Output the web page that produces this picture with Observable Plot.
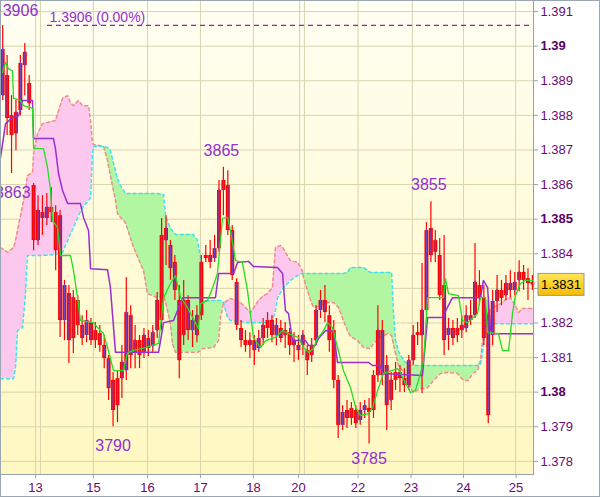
<!DOCTYPE html>
<html><head><meta charset="utf-8">
<script src="https://cdn.jsdelivr.net/npm/d3@7"></script>
<script src="https://cdn.jsdelivr.net/npm/@observablehq/plot@0.6"></script>
<style>
html,body{margin:0;padding:0;background:#fff;}
#chart{width:600px;height:497px;overflow:hidden;}
</style></head><body><div id="chart"></div>
<script>
// ---- candles (2-hour bars, time in hours) ----
const open = [1.38857,1.38915,1.38799,1.38747,1.38814,1.38944,1.38892,1.38597,1.38438,1.38519,
1.38502,1.38534,1.38519,1.3851,1.38207,1.38285,1.38155,1.38265,1.38193,1.38164,
1.38201,1.38149,1.38169,1.38135,1.38097,1.38034,1.37961,1.38039,1.38062,1.38221,
1.38115,1.38149,1.38115,1.38155,1.38132,1.38178,1.38207,1.38438,1.38424,1.38375,
1.38265,1.38164,1.38265,1.38178,1.38164,1.38221,1.38386,1.38395,1.38386,1.38415,
1.38583,1.38597,1.38467,1.38317,1.38184,1.38149,1.38135,1.38149,1.38126,1.38155,
1.38184,1.38207,1.38164,1.38184,1.38164,1.38172,1.38135,1.38135,1.38135,1.3812,
1.38106,1.38149,1.38236,1.38265,1.38221,1.38178,1.38034,1.37904,1.37947,1.37924,
1.37947,1.37918,1.37947,1.37953,1.37947,1.38048,1.38178,1.38077,1.37976,1.38034,
1.38057,1.38039,1.38019,1.38091,1.38164,1.38164,1.38236,1.38473,1.38404,1.38395,
1.38308,1.38164,1.38184,1.38164,1.38178,1.38184,1.38221,1.38221,1.38308,1.38271,
1.38221,1.38164,1.38262,1.38294,1.38279,1.38314,1.38294,1.38323,1.38346,1.38328,
1.38317];
const high = [1.3906,1.38973,1.38857,1.38843,1.38973,1.39008,1.38915,1.38603,1.38568,1.38568,
1.38574,1.38591,1.38539,1.38525,1.38323,1.38308,1.38294,1.38279,1.38221,1.38236,
1.38213,1.38201,1.38193,1.38164,1.38106,1.38057,1.38062,1.38135,1.38331,1.3825,
1.38193,1.38164,1.38184,1.38178,1.38193,1.38288,1.38502,1.3851,1.38438,1.38395,
1.38308,1.38323,1.38279,1.38236,1.3825,1.38395,1.38424,1.38438,1.38453,1.38612,
1.3865,1.3864,1.38482,1.38328,1.38207,1.38178,1.38172,1.38164,1.38178,1.38213,
1.3823,1.38221,1.38213,1.38207,1.38201,1.38184,1.38172,1.38164,1.38178,1.38135,
1.38155,1.3825,1.38294,1.38308,1.3825,1.38207,1.38048,1.37961,1.37976,1.3797,
1.37961,1.3797,1.37976,1.37982,1.38062,1.3825,1.38207,1.38106,1.38057,1.38086,
1.38077,1.38068,1.38106,1.38193,1.38201,1.38372,1.3849,1.3855,1.38467,1.38444,
1.38453,1.38213,1.38207,1.38213,1.38221,1.3825,1.38265,1.3843,1.38351,1.38308,
1.38265,1.38294,1.38337,1.38323,1.38337,1.38351,1.38346,1.3838,1.38366,1.38357,
1.38337];
const low = [1.38843,1.38742,1.38632,1.38698,1.38799,1.38857,1.38814,1.38409,1.38424,1.38453,
1.38482,1.3849,1.38351,1.38158,1.38149,1.38083,1.38112,1.38164,1.38135,1.38143,
1.38135,1.38126,1.38115,1.38068,1.37976,1.3790,1.37912,1.37982,1.38034,1.38068,
1.38068,1.38068,1.38097,1.38103,1.38115,1.38155,1.38178,1.38366,1.38323,1.38265,
1.38039,1.38135,1.38149,1.38129,1.38143,1.38207,1.38375,1.38357,1.38375,1.38404,
1.3851,1.38453,1.38323,1.38178,1.38129,1.38115,1.38097,1.38077,1.38115,1.38135,
1.38155,1.38143,1.38135,1.38143,1.38126,1.38106,1.38086,1.38091,1.38106,1.38048,
1.38086,1.38135,1.38213,1.38201,1.38115,1.3801,1.37866,1.37889,1.37895,1.37904,
1.37895,1.37904,1.37924,1.3785,1.37924,1.38028,1.38019,1.37889,1.37947,1.38005,
1.37999,1.37999,1.38005,1.38077,1.38135,1.37996,1.38221,1.38375,1.38375,1.38265,
1.38106,1.3812,1.38135,1.38143,1.38155,1.38172,1.38193,1.38213,1.3825,1.38135,
1.37909,1.38135,1.3823,1.3825,1.38265,1.38273,1.38279,1.3829,1.38294,1.38265,
1.38294];
const close = [1.3899,1.38791,1.38742,1.38808,1.3895,1.38982,1.38834,1.38438,1.38525,1.38502,
1.38534,1.38519,1.38409,1.38207,1.38308,1.38149,1.38273,1.38193,1.38155,1.38207,
1.38149,1.38178,1.38135,1.38097,1.3801,1.37947,1.38039,1.38086,1.3823,1.38106,
1.38149,1.38106,1.38164,1.38126,1.38172,1.38265,1.38453,1.38473,1.38357,1.38294,
1.38091,1.38265,1.38178,1.38207,1.38221,1.38375,1.38395,1.38375,1.38415,1.38583,
1.38612,1.38467,1.38337,1.38193,1.38149,1.38135,1.38149,1.3812,1.38155,1.38193,
1.38207,1.38164,1.38193,1.38155,1.38178,1.38135,1.38149,1.3812,1.38164,1.38091,
1.38135,1.38236,1.38265,1.3823,1.38149,1.38034,1.37904,1.37941,1.37924,1.37953,
1.37909,1.37947,1.37961,1.37941,1.38048,1.38178,1.38048,1.37961,1.38034,1.38057,
1.38039,1.38019,1.38091,1.38164,1.38172,1.38236,1.38467,1.38395,1.38438,1.38279,
1.38149,1.38184,1.38155,1.38184,1.38193,1.38221,1.38207,1.38317,1.38271,1.38155,
1.37932,1.38262,1.38294,1.38271,1.38314,1.38294,1.38317,1.38346,1.38323,1.38314,
1.3831];

// ---- Tenkan (green) ----
const tenkanT = [0.9,2.3,3.6,5.4,5.9,9.1,10.4,14.5,15.0,19.5,21.3,22.7,23.6,25.8,27.2,31.7,33.1,34.9,36.2,42.1,
44.0,46.7,48.9,51.2,55.7,57.5,59.8,65.7,71.6,73.9,77.0,79.3,81.6,84.7,87.0,89.7,90.6,93.8,96.1,98.3,
100.6,102.9,104.2,106.5,109.6,111.9,114.6,117.8,120.1,124.6,127.8,130.5,135.0,137.3,139.6,141.8,143.6,146.4,148.2,150.4,
152.7,155.4,158.6,160.9,163.1,166.7,168.6,171.3,173.5,179.9,181.2,183.5,185.8,188.0,190.3,191.7,193.5,200.7,201.6,203.0,
207.5,209.3,211.6,216.1,217.5,219.8,220.7,225.6,227.5,230.2,232.0,233.3,235.6,237.9,241.0];
const tenkanP = [1.38924,1.38953,1.38935,1.38929,1.38849,1.38843,1.38828,1.3882,1.38704,1.38704,
1.38649,1.38583,1.38496,1.38476,1.38395,1.38395,1.38351,1.38273,1.38207,1.38201,
1.38187,1.38169,1.3812,1.38062,1.38062,1.38112,1.3812,1.38129,1.38141,1.38273,
1.38314,1.38337,1.38273,1.38245,1.38216,1.38184,1.38256,1.38265,1.38302,1.38343,
1.38502,1.38505,1.38467,1.3838,1.38375,1.38294,1.38158,1.38129,1.38149,1.38158,
1.38178,1.38169,1.38158,1.38129,1.38115,1.38126,1.38155,1.38178,1.38201,1.38187,
1.38129,1.38062,1.38013,1.37956,1.37932,1.37938,1.37956,1.38013,1.38054,1.38068,
1.38057,1.38025,1.37999,1.38005,1.38054,1.38091,1.38273,1.38273,1.38328,1.38285,
1.38279,1.38207,1.38201,1.38227,1.38273,1.38273,1.38172,1.38169,1.3812,1.3812,
1.38227,1.38279,1.38314,1.38323,1.38323];

// ---- Kijun (purple) ----
const kijunT = [0,2.3,5.4,8.2,10.0,14.5,15.0,24.0,24.9,26.3,28.1,30.4,36.2,37.6,39.9,40.8,48.5,49.8,52.1,71.6,
73.9,78.4,80.2,82.5,97.4,98.8,105.6,107.4,112.4,114.6,125.5,127.8,129.1,130.5,132.3,138.2,139.6,142.7,144.1,147.3,
150.9,152.7,166.7,168.6,172.2,173.1,191.2,193.5,200.3,202.5,204.8,217.5,218.8,220.7,222.0,223.4,241.5];
const kijunP = [1.38678,1.38776,1.38794,1.38799,1.38843,1.38843,1.38733,1.38733,1.38704,1.38632,
1.38583,1.38545,1.38545,1.38505,1.38467,1.38357,1.38354,1.38302,1.38115,1.38115,
1.38201,1.38207,1.38236,1.38273,1.38273,1.38343,1.38343,1.38375,1.38378,1.38363,
1.3836,1.38343,1.38236,1.38227,1.38149,1.38149,1.38135,1.38135,1.38155,1.38178,
1.38175,1.38086,1.38086,1.38077,1.38077,1.38054,1.38048,1.38216,1.38216,1.38245,
1.38273,1.38273,1.38323,1.38302,1.38178,1.38169,1.38169];

// ---- Cloud spans ----
const cloudT = [0,3.2,5.9,6.8,7.7,10.0,11.3,12.2,14.5,15.0,16.8,19.0,24.9,26.3,28.1,30.4,31.7,33.1,35.3,37.2,
39.9,40.8,41.7,42.1,46.7,48.5,49.8,52.1,53.0,54.4,56.6,60.3,64.8,66.6,71.1,73.9,74.8,77.0,77.9,79.3,
87.4,89.3,90.6,91.5,96.5,98.8,99.7,101.0,102.9,104.2,108.7,113.3,116.9,119.2,121.0,123.2,124.6,125.5,126.9,128.2,
129.1,131.4,134.6,136.8,137.3,140.5,141.8,145.0,148.2,150.9,153.1,155.4,157.2,158.6,161.8,164.5,167.6,169.0,172.2,175.3,
177.2,178.1,179.0,180.3,181.2,183.5,185.8,187.1,190.3,193.5,196.2,199.4,203.0,207.1,209.8,212.1,213.9,216.1,217.5,218.4,
219.8,220.7,223.4,226.6,229.7,231.1,233.3,234.7,236.5,241.5];
const spanSalmon = [1.38418,1.38404,1.38418,1.38438,1.38467,1.38539,1.38583,1.38626,1.38635,1.3869,
1.38747,1.38776,1.38785,1.38814,1.38849,1.38857,1.38837,1.38828,1.38843,1.38828,
1.38828,1.38785,1.38719,1.38716,1.3871,1.38669,1.38626,1.38554,1.38516,1.38505,
1.3849,1.38418,1.38351,1.38285,1.38273,1.38279,1.38259,1.38198,1.38141,1.38115,
1.38115,1.38115,1.3812,1.38126,1.38129,1.38149,1.38216,1.38256,1.38265,1.38271,
1.38259,1.3823,1.38265,1.38279,1.38285,1.38302,1.38418,1.38421,1.38424,1.38415,
1.38404,1.3838,1.38375,1.38351,1.38331,1.38265,1.38245,1.3825,1.38259,1.38259,
1.38245,1.38207,1.38178,1.38161,1.38149,1.38129,1.38126,1.38141,1.38158,1.38169,
1.38164,1.38135,1.38112,1.38077,1.38071,1.38048,1.38013,1.37999,1.3801,1.38013,
1.38034,1.38054,1.38057,1.38054,1.38034,1.38034,1.38054,1.38062,1.38091,1.38149,
1.38207,1.38227,1.38245,1.38256,1.38271,1.38273,1.3825,1.3823,1.38242,1.38242];
const spanCyan = [1.38039,1.38039,1.38039,1.38071,1.38178,1.38187,1.38285,1.38395,1.38395,1.38395,
1.38395,1.38395,1.38398,1.38401,1.38404,1.38438,1.38458,1.38476,1.3851,1.38534,
1.38554,1.38562,1.3869,1.3871,1.3871,1.38707,1.38698,1.3864,1.38617,1.38597,
1.38574,1.38574,1.38574,1.38574,1.38574,1.38571,1.3851,1.38473,1.38467,1.38456,
1.38456,1.38438,1.38389,1.38265,1.38265,1.38265,1.38265,1.38259,1.38216,1.38207,
1.38204,1.38201,1.38201,1.38201,1.38204,1.38207,1.38236,1.38273,1.38288,1.38302,
1.38308,1.38323,1.38337,1.38343,1.38343,1.38343,1.38343,1.38343,1.38343,1.38343,
1.38343,1.38343,1.38346,1.3836,1.3836,1.3836,1.38346,1.38346,1.38346,1.38346,
1.38346,1.38227,1.38149,1.3812,1.38106,1.38086,1.38077,1.38077,1.38077,1.38077,
1.38077,1.38077,1.38077,1.38077,1.38077,1.38077,1.38077,1.38077,1.3808,1.38115,
1.38189,1.38198,1.38198,1.38198,1.38198,1.38198,1.38198,1.38198,1.38198,1.38198];

// ---- axes ----
const yTicks = [1.378,1.379,1.38,1.381,1.382,1.383,1.384,1.385,1.386,1.387,1.388,1.389,1.39,1.391];
const yTicksBold = [1.38,1.385,1.39];
const dayTicks = [15.9,42.1,66.6,90.6,114.6,135.0,162.0,186.0,209.8,233.6];
const dayLabels = ["13","15","16","17","18","20","22","23","24","25"];
const gridXPos = [15.9,18.1,42.1,66.6,90.6,114.6,135.5,137.7,162.0,186.6,209.8,233.4];

// ---- annotations ----
const peakLabels = ["3906","3863","3865","3855"];
const peakBars = [0,7,50,97];
const troughLabels = ["3790","3785"];
const troughBars = [25,83];
const lastPrice = 1.3906;
const lastPriceText = "1.3906 (0.00%)";
const currentPrice = 1.3831;

const candles = open.map((o,i)=>({t: 2*i+1, open:o, high:high[i], low:low[i], close:close[i]}));
const cloud = cloudT.map((t,i)=>({t, s: spanSalmon[i], c: spanCyan[i]}));
const tenkan = tenkanT.map((t,i)=>({t, p: tenkanP[i]}));
const kijun = kijunT.map((t,i)=>({t, p: kijunP[i]}));
// the current-price box covers the 1.383 label, as in the original
const fmt = d => Math.abs(d - currentPrice) < 0.0005 ? "" : String(+d.toFixed(3));

const FONT = "'Liberation Sans', Arial, sans-serif";
const LBL = "#9330cf";
const AX = "#6c0a74";
const AXLINE = "#95a2ae";

function annot(text, bar, anchor, dx, dy) {
  const c = candles[bar];
  return Plot.text([text], {x: c.t, y: +("1." + text), text: d => d, textAnchor: anchor,
    dx, dy, fill: LBL, fontSize: 16, fontFamily: FONT});
}

const plot = Plot.plot({
  width: 600, height: 497,
  marginLeft: 0, marginRight: 67, marginTop: 0, marginBottom: 23,
  style: {fontFamily: FONT, fontSize: "13px", background: "#ffffff", overflow: "hidden",
          outline: "1px solid #9aa7b3", outlineOffset: "-1px"},
  x: {domain: [0, 241.5], label: null},
  y: {domain: [1.37762, 1.39132], label: null},
  marks: [
    Plot.gridY(yTicks, {stroke: "#d8d4ac", strokeOpacity: 1}),
    Plot.gridX(gridXPos, {stroke: "#d8d4ac", strokeOpacity: 1}),
    Plot.areaY(cloud, {x: "t", y1: "c", y2: d => Math.max(d.s, d.c), fill: "#fdc8ee"}),
    Plot.areaY(cloud, {x: "t", y1: "s", y2: d => Math.max(d.s, d.c), fill: "#b2f6a2"}),
    Plot.line(cloud, {x: "t", y: "s", stroke: "#f08c8c", strokeWidth: 1.5, strokeDasharray: "3,3"}),
    Plot.line(cloud, {x: "t", y: "c", stroke: "#3ee0f2", strokeWidth: 1.5, strokeDasharray: "3,3"}),
    Plot.ruleY([lastPrice], {x1: 21.3, x2: 241.5, stroke: "#8a20c0", strokeWidth: 1.2, strokeDasharray: "5,4"}),
    Plot.ruleX(candles, {x: "t", y1: "low", y2: "high", stroke: "#ff0000", strokeWidth: 1.2}),
    Plot.ruleX(candles, {x: "t", y1: "open", y2: "close", stroke: "#ff0000", strokeWidth: 4}),
    Plot.ruleX(candles.filter(d => Math.abs(d.open - d.close) > 0.00012),
      {x: "t", y1: "open", y2: "close", stroke: "#6a46c6", strokeWidth: 1.2, insetTop: 1.2, insetBottom: 1.2}),
    Plot.line(kijun, {x: "t", y: "p", stroke: "#9a2fd0", strokeWidth: 1.5}),
    Plot.line(tenkan, {x: "t", y: "p", stroke: "#22dd22", strokeWidth: 1.3}),
    annot(peakLabels[0], peakBars[0], "start", 0, -15),
    annot(peakLabels[1], peakBars[1], "end", -3, 19),
    annot(peakLabels[2], peakBars[2], "middle", -2, -16),
    annot(peakLabels[3], peakBars[3], "middle", -2, -17),
    annot(troughLabels[0], troughBars[0], "middle", 0, 19),
    annot(troughLabels[1], troughBars[1], "middle", 0, 15),
    Plot.text([lastPriceText], {x: 21.3, y: lastPrice, text: d => d, textAnchor: "start", dx: 2, dy: -8,
      fill: LBL, fontSize: 14, fontFamily: FONT}),
    Plot.frame({stroke: AXLINE}),
    Plot.axisY(yTicks.filter(v => !yTicksBold.includes(v)), {anchor: "right", tickSize: 4, tickPadding: 3,
      stroke: AXLINE, fill: AX, fontSize: 13, tickFormat: fmt}),
    Plot.axisY(yTicksBold, {anchor: "right", tickSize: 4, tickPadding: 3,
      stroke: AXLINE, fill: "#5a0060", fontSize: 13, fontWeight: "bold", tickFormat: fmt}),
    Plot.axisX(dayTicks, {anchor: "bottom", tickSize: 4, tickPadding: 4,
      stroke: AXLINE, fill: AX, fontSize: 13, tickFormat: d => dayLabels[dayTicks.indexOf(d)]})
  ]
});

// background gradient behind the plotting area
const svg = d3.select(plot);
const xr = plot.scale("x").range, yr = plot.scale("y").range;
svg.insert("rect", ":first-child")
  .attr("x", Math.min(...xr)).attr("y", Math.min(...yr))
  .attr("width", Math.abs(xr[1] - xr[0])).attr("height", Math.abs(yr[1] - yr[0]))
  .attr("fill", "url(#bgGrad)");
const defs = svg.insert("defs", ":first-child");
const grad = defs.append("linearGradient")
  .attr("id", "bgGrad").attr("x1", 0).attr("y1", 0).attr("x2", 0).attr("y2", 1);
grad.append("stop").attr("offset", "0%").attr("stop-color", "#fffff3");
grad.append("stop").attr("offset", "100%").attr("stop-color", "#fff8c2");
const bgrad = defs.append("linearGradient")
  .attr("id", "boxGrad").attr("x1", 0).attr("y1", 0).attr("x2", 0).attr("y2", 1);
bgrad.append("stop").attr("offset", "0%").attr("stop-color", "#ffe65a");
bgrad.append("stop").attr("offset", "100%").attr("stop-color", "#f7bb00");

// current price box on the right axis
const cy = plot.scale("y").apply(currentPrice);
const x0 = Math.max(...xr);
const box = svg.append("g");
box.append("rect").attr("x", x0 + 5).attr("y", cy - 11).attr("width", 46).attr("height", 22)
  .attr("fill", "url(#boxGrad)").attr("stroke", "#8a9caa");
box.append("text").attr("x", x0 + 28).attr("y", cy).attr("dy", "0.35em").attr("text-anchor", "middle")
  .attr("font-family", FONT).attr("font-size", 13).attr("fill", "#000").text(currentPrice.toFixed(4));

document.getElementById("chart").appendChild(plot);
</script></body></html>
